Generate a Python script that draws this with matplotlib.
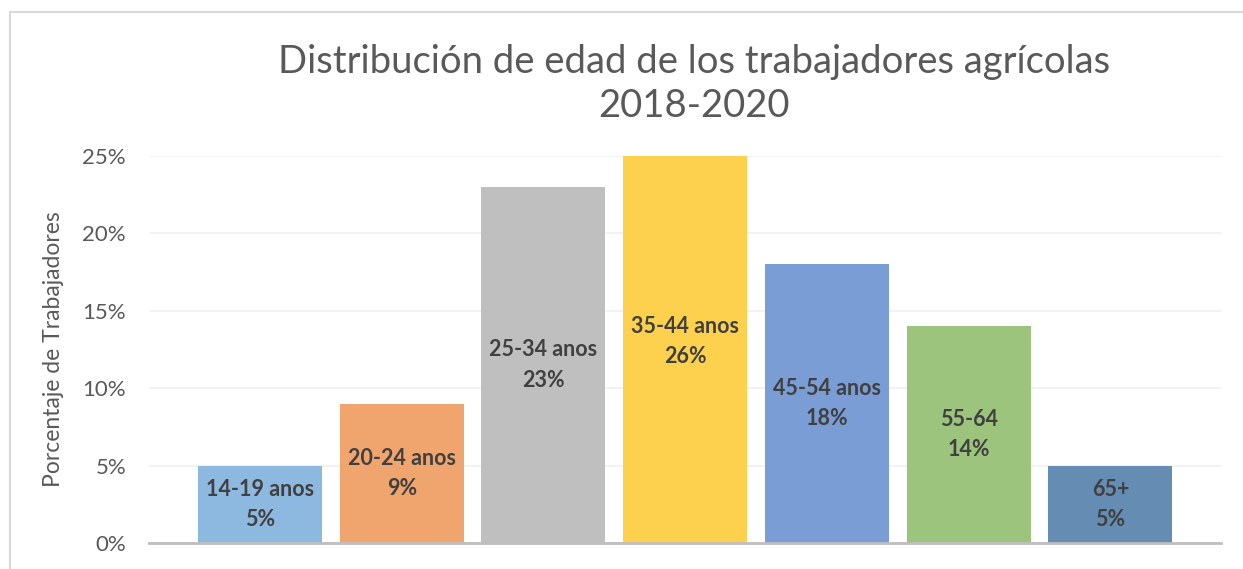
import matplotlib.pyplot as plt
from matplotlib.patches import Rectangle

# =====================
# DATA
# =====================
grupos = ["14-19 anos", "20-24 anos", "25-34 anos", "35-44 anos", "45-54 anos", "55-64", "65+"]
porcentajes = [5, 9, 23, 26, 18, 14, 5]
colores = ["#8DB8E0", "#F0A46E", "#BFBFBF", "#FDD14E", "#7B9DD5", "#9CC47D", "#658CB3"]
ticks_y = [0, 5, 10, 15, 20, 25]

plt.rcParams['font.family'] = ['Lato', 'DejaVu Sans']

fig = plt.figure(figsize=(12.43, 5.69), dpi=100)
ax = fig.add_axes([149/1243, 26/569, 1072/1243, 387/569])

# chart border (Excel style)
fig.patches.append(Rectangle((10/1243, -0.1), 1.2, 1 - 12/569 + 0.1, transform=fig.transFigure,
                             fill=False, edgecolor="#D9D9D9", linewidth=1.5))

x = range(len(grupos))
ax.bar(x, porcentajes, width=0.875, color=colores, zorder=2)

for i, (g, v) in enumerate(zip(grupos, porcentajes)):
    ax.text(i, v / 2, f"{g}\n{v}%", ha="center", va="center", fontsize=15.5,
            fontweight="bold", color="#404040", linespacing=1.55, zorder=3)

ax.set_xlim(-0.783, 6.78)
ax.set_ylim(0, 25)
ax.set_yticks(ticks_y)
ax.set_yticklabels([f"{t}%" for t in ticks_y], fontsize=16, color="#595959")
ax.set_xticks([])
ax.tick_params(axis="y", length=0, pad=16.5)
ax.grid(axis="y", color="#F0F0F0", linewidth=1.2, zorder=0)
for s in ["top", "right", "left"]:
    ax.spines[s].set_visible(False)
ax.spines["bottom"].set_color("#BFBFBF")
ax.spines["bottom"].set_linewidth(2)
ax.spines["bottom"].set_zorder(4)

ax.set_ylabel("Porcentaje de Trabajadores", fontsize=16.5, color="#595959", labelpad=13)

fig.text(694/1243, 1 - 84/569, "Distribución de edad de los trabajadores agrícolas\n2018-2020",
         ha="center", va="center", fontsize=27.5, color="#595959", linespacing=1.25)

fig.savefig("out.png", dpi=100)
